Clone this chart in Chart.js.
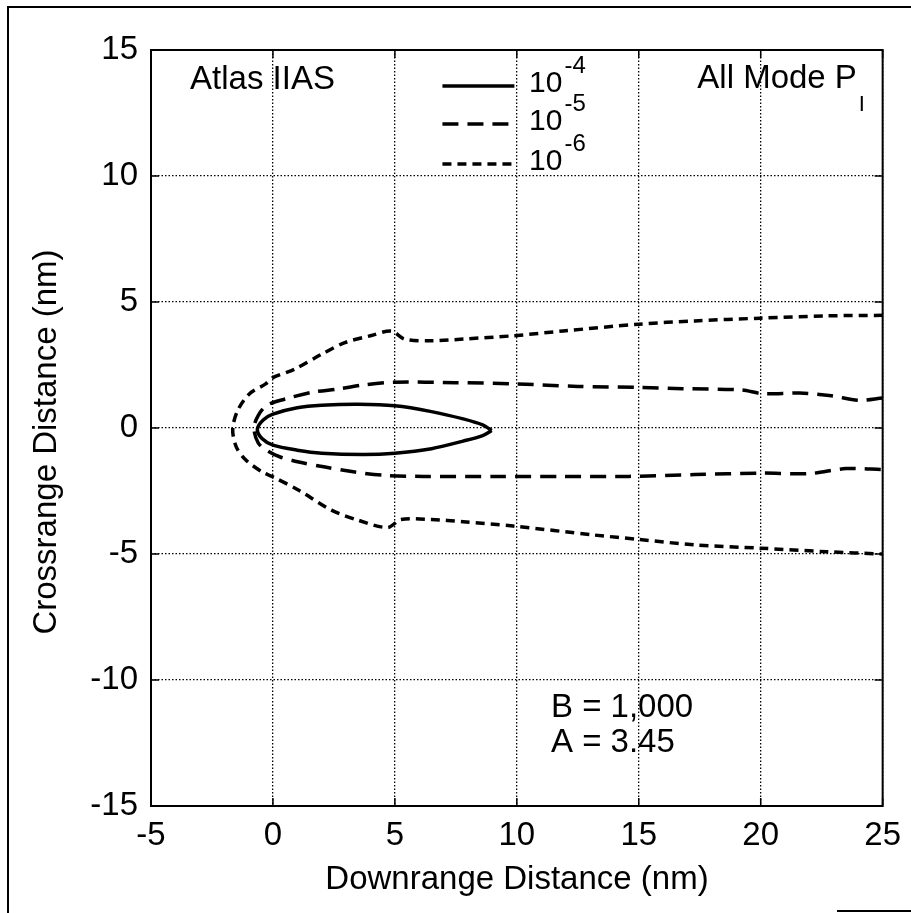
<!DOCTYPE html>
<html>
<head>
<meta charset="utf-8">
<script src="https://cdn.jsdelivr.net/npm/chart.js@4.4.1/dist/chart.umd.min.js"></script>
<style>
  html, body { margin: 0; padding: 0; background: #fff; }
  #wrap { width: 911px; height: 913px; }
</style>
</head>
<body>
<div id="wrap"><canvas id="pk-contours" width="911" height="913"></canvas></div>
<script>
// P_k contours, 10^-4 / 10^-5 / 10^-6, downrange vs crossrange (nm)
const xTicks = [-5, 0, 5, 10, 15, 20, 25];
const yTicks = [-15, -10, -5, 0, 5, 10, 15];

const exponents = ['-4', '-5', '-6'];

// 10^-4: closed loop, tip -> upper edge -> nose -> lower edge -> tip
const pk4X = [8.97, 8.6, 7.8, 6.5, 5.0, 3.5, 2.0, 1.0, 0.0, -0.4, -0.64, -0.45, 0.0, 1.0, 2.0, 3.7, 5.0, 6.5, 7.8, 8.6, 8.97];
const pk4Y = [-0.1, 0.12, 0.36, 0.65, 0.88, 0.94, 0.9, 0.8, 0.55, 0.32, -0.05, -0.42, -0.68, -0.88, -1.0, -1.05, -1.0, -0.82, -0.52, -0.3, -0.1];

// 10^-5: upper branch from x=25 back to the nose, then lower branch out to x=25
const pk5X = [25, 24.0, 22.9, 21.6, 20.1, 19.2, 16.8, 15, 12.5, 10, 7.5, 5.0, 3.8, 2.7, 1.6, 0.5, -0.25, -0.6, -0.78, -0.6, -0.2, 0.3, 1.06, 2.14, 3.36, 4.6, 6.2, 9.2, 11.9, 14.6, 17.3, 20, 22.0, 23.5, 25];
const pk5Y = [1.19, 1.1, 1.28, 1.39, 1.36, 1.51, 1.56, 1.61, 1.65, 1.75, 1.8, 1.82, 1.72, 1.55, 1.42, 1.15, 0.9, 0.5, 0.0, -0.6, -0.92, -1.15, -1.35, -1.55, -1.75, -1.88, -1.92, -1.92, -1.92, -1.92, -1.85, -1.79, -1.81, -1.61, -1.65];

// 10^-6
const pk6X = [25, 22.7, 20, 17.3, 15, 11.9, 9.85, 7.8, 6.5, 5.4, 4.85, 4.0, 2.95, 2.0, 0.9, 0, -0.3, -0.97, -1.45, -1.65, -1.5, -1.1, -0.43, 0, 1.06, 2.4, 3.5, 4.7, 5.25, 6.5, 7.8, 9.85, 13.2, 15, 17.3, 20, 22.7, 25];
const pk6Y = [4.47, 4.45, 4.36, 4.25, 4.12, 3.85, 3.66, 3.53, 3.46, 3.53, 3.85, 3.66, 3.39, 2.93, 2.34, 2.0, 1.75, 1.35, 0.69, -0.05, -0.76, -1.28, -1.75, -1.94, -2.47, -3.26, -3.66, -3.95, -3.63, -3.63, -3.72, -3.89, -4.25, -4.42, -4.64, -4.77, -4.91, -5.0];

const FONT = "'Liberation Sans', Arial, Helvetica, sans-serif";

const toPoints = (xs, ys) => xs.map((x, i) => ({x, y: ys[i]}));

const contour = (label, xs, ys, dash) => ({
  label,
  data: toPoints(xs, ys),
  showLine: true,
  borderColor: '#000',
  borderWidth: 3.5,
  borderDash: dash,
  borderCapStyle: 'butt',
  tension: 0.3,
  pointRadius: 0,
  fill: false,
});

// frame, inward ticks, legend and the text labels
const decorations = {
  id: 'decorations',
  afterDraw(chart) {
    const {ctx, chartArea: ca, scales: {x, y}} = chart;
    ctx.save();
    ctx.strokeStyle = '#000';
    ctx.fillStyle = '#000';

    // page border
    ctx.lineWidth = 2;
    ctx.beginPath();
    ctx.moveTo(8, 913);
    ctx.lineTo(8, 7);
    ctx.lineTo(911, 7);
    ctx.moveTo(837, 911);
    ctx.lineTo(911, 911);
    ctx.stroke();

    // plot box
    ctx.strokeRect(ca.left, ca.top, ca.right - ca.left, ca.bottom - ca.top);

    ctx.lineWidth = 1.5;
    ctx.beginPath();
    xTicks.forEach((v) => {
      const px = x.getPixelForValue(v);
      ctx.moveTo(px, ca.bottom); ctx.lineTo(px, ca.bottom - 8);
      ctx.moveTo(px, ca.top); ctx.lineTo(px, ca.top + 8);
    });
    yTicks.forEach((v) => {
      const py = y.getPixelForValue(v);
      ctx.moveTo(ca.left, py); ctx.lineTo(ca.left + 8, py);
      ctx.moveTo(ca.right, py); ctx.lineTo(ca.right - 8, py);
    });
    ctx.stroke();

    // axis titles
    ctx.font = `33px ${FONT}`;
    ctx.textAlign = 'center';
    ctx.textBaseline = 'middle';
    ctx.fillText('Downrange Distance (nm)', 517, 880);
    ctx.save();
    ctx.translate(47, 442);
    ctx.rotate(-Math.PI / 2);
    ctx.fillText('Crossrange Distance (nm)', 0, 0);
    ctx.restore();

    // legend
    const rows = [13.57, 12.06, 10.48];
    const x0 = x.getPixelForValue(6.95);
    const x1 = x.getPixelForValue(9.9);
    const tx = x.getPixelForValue(10.5);
    chart.data.datasets.forEach((ds, i) => {
      const py = y.getPixelForValue(rows[i]);
      ctx.save();
      ctx.lineWidth = ds.borderWidth;
      ctx.setLineDash(ds.borderDash);
      ctx.beginPath();
      ctx.moveTo(x0, py);
      ctx.lineTo(x1, py);
      ctx.stroke();
      ctx.restore();
      ctx.textAlign = 'left';
      ctx.font = `30px ${FONT}`;
      ctx.fillText('10', tx, py - 2);
      const w = ctx.measureText('10').width;
      ctx.font = `24px ${FONT}`;
      ctx.fillText(exponents[i], tx + w + 2, py - 20);
    });

    // annotations
    ctx.textAlign = 'left';
    ctx.font = `33px ${FONT}`;
    ctx.fillText('Atlas IIAS', x.getPixelForValue(-3.4), y.getPixelForValue(13.8));
    const amx = x.getPixelForValue(17.4);
    const amy = y.getPixelForValue(13.85);
    ctx.fillText('All Mode P', amx, amy);
    const amw = ctx.measureText('All Mode P').width;
    ctx.font = `22px ${FONT}`;
    ctx.fillText('I', amx + amw + 2, amy + 26);
    ctx.font = `33px ${FONT}`;
    ctx.fillText('B = 1,000', x.getPixelForValue(11.4), y.getPixelForValue(-11.1));
    ctx.fillText('A = 3.45', x.getPixelForValue(11.4), y.getPixelForValue(-12.5));
    ctx.restore();
  },
};

const axisBase = {
  type: 'linear',
  grid: {color: '#000', lineWidth: 1.3, drawTicks: false},
  border: {display: false, dash: [1.5, 2]},
};

new Chart(document.getElementById('pk-contours').getContext('2d'), {
  type: 'scatter',
  data: {
    datasets: [
      contour('1e-4', pk4X, pk4Y, []),
      contour('1e-5', pk5X, pk5Y, [16, 9]),
      contour('1e-6', pk6X, pk6Y, [9, 6]),
    ],
  },
  options: {
    responsive: false,
    animation: false,
    devicePixelRatio: 1,
    layout: {padding: {left: 0, top: 50, right: 21, bottom: 0}},
    plugins: {legend: {display: false}, tooltip: {enabled: false}},
    scales: {
      x: {
        ...axisBase,
        min: -5,
        max: 25,
        afterBuildTicks: (s) => { s.ticks = xTicks.map((value) => ({value})); },
        afterFit: (s) => { s.height = 107; },
        ticks: {color: '#000', font: {family: FONT, size: 33}, padding: 10, maxRotation: 0, autoSkip: false},
      },
      y: {
        ...axisBase,
        min: -15,
        max: 15,
        afterBuildTicks: (s) => { s.ticks = yTicks.map((value) => ({value})); },
        afterFit: (s) => { s.width = 151; },
        ticks: {color: '#000', font: {family: FONT, size: 33}, padding: 13, autoSkip: false},
      },
    },
  },
  plugins: [decorations],
});
</script>
</body>
</html>
